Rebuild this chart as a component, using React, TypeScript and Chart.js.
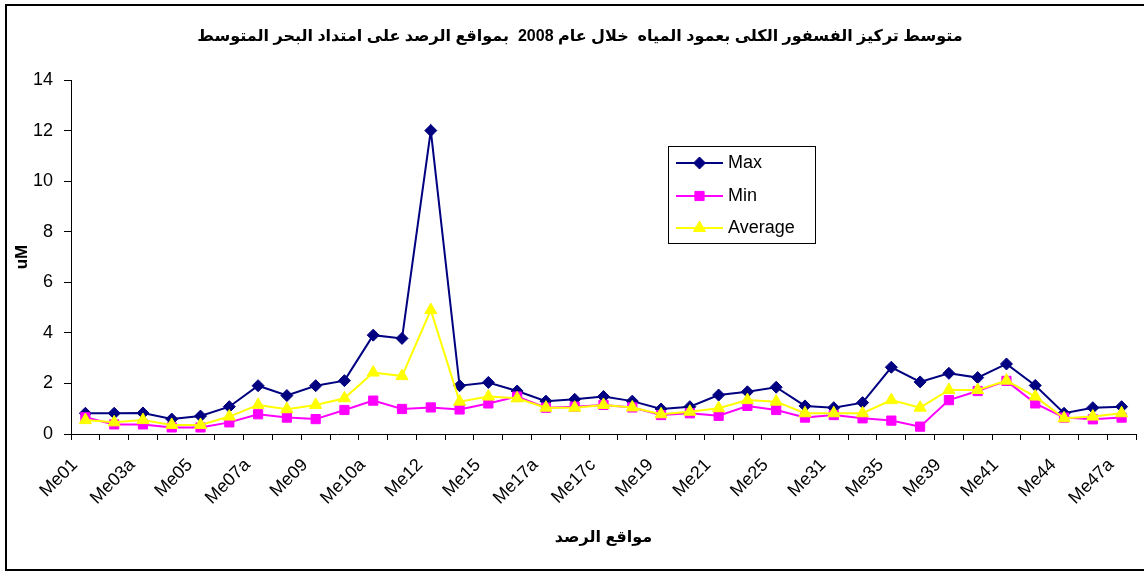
import React, { useEffect, useRef } from 'react';
import { Chart, registerables } from 'chart.js';

Chart.register(...registerables);

const TITLE = 'متوسط تركيز الفسفور الكلى بعمود المياه  خلال عام 2008  بمواقع الرصد على امتداد البحر المتوسط';
const X_TITLE = 'مواقع الرصد';
const Y_TITLE = 'uM';

const categories = [
  'Me01', 'Me02', 'Me03a', 'Me04', 'Me05', 'Me06', 'Me07a', 'Me08', 'Me09', 'Me10',
  'Me10a', 'Me11', 'Me12', 'Me13', 'Me15', 'Me16', 'Me17a', 'Me17b', 'Me17c', 'Me18',
  'Me19', 'Me20', 'Me21', 'Me23', 'Me25', 'Me27', 'Me31', 'Me33', 'Me35', 'Me37',
  'Me39', 'Me40', 'Me41', 'Me43', 'Me44', 'Me46', 'Me47a',
];

const maxValues = [
  0.82, 0.82, 0.83, 0.59, 0.71, 1.08, 1.91, 1.52, 1.91, 2.11,
  3.91, 3.78, 12.0, 1.91, 2.04, 1.70, 1.30, 1.37, 1.48, 1.30,
  0.99, 1.08, 1.54, 1.67, 1.85, 1.11, 1.04, 1.24, 2.64, 2.06,
  2.40, 2.23, 2.77, 1.92, 0.82, 1.04, 1.08,
];

const minValues = [
  0.66, 0.38, 0.38, 0.26, 0.26, 0.46, 0.78, 0.65, 0.59, 0.95,
  1.32, 0.99, 1.05, 0.97, 1.21, 1.48, 1.04, 1.08, 1.15, 1.05,
  0.75, 0.82, 0.72, 1.11, 0.95, 0.65, 0.75, 0.62, 0.53, 0.29,
  1.34, 1.70, 2.10, 1.21, 0.65, 0.58, 0.65,
];

const avgValues = [
  0.55, 0.46, 0.55, 0.36, 0.36, 0.69, 1.15, 0.98, 1.15, 1.41,
  2.43, 2.29, 4.90, 1.28, 1.48, 1.41, 1.04, 1.04, 1.15, 1.05,
  0.78, 0.88, 1.02, 1.34, 1.28, 0.82, 0.82, 0.82, 1.34, 1.04,
  1.74, 1.74, 2.11, 1.48, 0.62, 0.69, 0.82,
];

const seriesNames = ['Max', 'Min', 'Average'];
const seriesColors = ['#000080', '#FF00FF', '#FFFF00'];
const seriesShapes = ['rectRot', 'rect', 'triangle'];
const seriesRadius = [6, 6.5, 7];

const Y_MIN = 0;
const Y_MAX = 14;
const Y_STEP = 2;

const FONT = '"Liberation Sans", Arial, "DejaVu Sans", sans-serif';

function drawMarker(ctx: CanvasRenderingContext2D, shape: string, x: number, y: number, r: number, color: string) {
  ctx.save();
  ctx.fillStyle = color;
  ctx.strokeStyle = color;
  ctx.lineWidth = 1;
  ctx.beginPath();
  if (shape === 'rectRot') {
    ctx.moveTo(x, y - r);
    ctx.lineTo(x + r, y);
    ctx.lineTo(x, y + r);
    ctx.lineTo(x - r, y);
    ctx.closePath();
  } else if (shape === 'rect') {
    const s = Math.SQRT1_2 * r;
    ctx.rect(x - s, y - s, 2 * s, 2 * s);
  } else {
    const h = Math.sqrt(3) / 2;
    ctx.moveTo(x, y - r);
    ctx.lineTo(x + r * h, y + r / 2);
    ctx.lineTo(x - r * h, y + r / 2);
    ctx.closePath();
  }
  ctx.fill();
  ctx.stroke();
  ctx.restore();
}

const framePlugin = {
  id: 'frameAndTitle',
  beforeDraw(chart: any) {
    const ctx = chart.ctx as CanvasRenderingContext2D;
    ctx.save();
    ctx.fillStyle = '#ffffff';
    ctx.fillRect(0, 0, chart.width, chart.height);
    ctx.strokeStyle = '#000000';
    ctx.lineWidth = 2;
    ctx.strokeRect(6, 5, 1200, 565);
    ctx.restore();
  },
  afterDraw(chart: any) {
    const ctx = chart.ctx as CanvasRenderingContext2D;
    // Title
    ctx.save();
    ctx.fillStyle = '#000000';
    ctx.font = `bold 16px ${FONT}`;
    (ctx as any).direction = 'rtl';
    ctx.textAlign = 'center';
    ctx.textBaseline = 'middle';
    ctx.fillText(TITLE, 580, 37);
    ctx.restore();

    // Legend
    const bx = 668.5, by = 146.5, bw = 147, bh = 97;
    ctx.save();
    ctx.fillStyle = '#ffffff';
    ctx.fillRect(bx, by, bw, bh);
    ctx.strokeStyle = '#000000';
    ctx.lineWidth = 1;
    ctx.strokeRect(bx, by, bw, bh);
    const rows = [163, 196, 228];
    seriesNames.forEach((name, i) => {
      const y = rows[i];
      ctx.strokeStyle = seriesColors[i];
      ctx.lineWidth = 2;
      ctx.beginPath();
      ctx.moveTo(676, y);
      ctx.lineTo(723, y);
      ctx.stroke();
      drawMarker(ctx, seriesShapes[i], 699.5, y, seriesRadius[i], seriesColors[i]);
      ctx.fillStyle = '#000000';
      ctx.font = `18px ${FONT}`;
      ctx.textAlign = 'left';
      ctx.textBaseline = 'middle';
      ctx.fillText(name, 728, y);
    });
    ctx.restore();
  },
};

export default function App() {
  const canvasRef = useRef<HTMLCanvasElement | null>(null);

  useEffect(() => {
    if (!canvasRef.current) return;
    const series = [maxValues, minValues, avgValues];
    const chart = new Chart(canvasRef.current, {
      type: 'line',
      data: {
        labels: categories,
        datasets: series.map((values, i) => ({
          label: seriesNames[i],
          data: values,
          borderColor: seriesColors[i],
          backgroundColor: seriesColors[i],
          borderWidth: 2,
          pointStyle: seriesShapes[i] as any,
          pointRadius: seriesRadius[i],
          pointBorderWidth: 1,
          pointBackgroundColor: seriesColors[i],
          pointBorderColor: seriesColors[i],
          tension: 0,
          fill: false,
          order: 2 - i,
        })),
      },
      options: {
        responsive: false,
        animation: false,
        devicePixelRatio: 1,
        layout: { padding: { top: 80, right: 3, left: 0, bottom: 0 } },
        plugins: {
          legend: { display: false },
          title: { display: false },
          tooltip: { enabled: false },
        },
        scales: {
          x: {
            type: 'category',
            offset: true,
            border: { display: true, color: '#000000', width: 1 },
            grid: {
              offset: true,
              drawOnChartArea: false,
              drawTicks: true,
              tickLength: 6,
              color: '#000000',
            },
            ticks: {
              autoSkip: false,
              minRotation: 45,
              maxRotation: 45,
              padding: 4,
              color: '#000000',
              font: { family: FONT, size: 18 },
              callback: (_v: any, index: number) => (index % 2 === 0 ? categories[index] + '   ' : ''),
            },
            title: {
              display: true,
              text: X_TITLE,
              color: '#000000',
              font: { family: FONT, size: 16, weight: 'bold' },
              padding: { top: 0, bottom: 25 },
            },
            afterFit: (scale: any) => {
              scale.height = 138;
            },
          },
          y: {
            min: Y_MIN,
            max: Y_MAX,
            border: { display: true, color: '#000000', width: 1 },
            grid: {
              drawOnChartArea: false,
              drawTicks: true,
              tickLength: 7,
              color: '#000000',
            },
            ticks: {
              stepSize: Y_STEP,
              padding: 11,
              color: '#000000',
              font: { family: FONT, size: 18 },
            },
            title: {
              display: true,
              text: Y_TITLE,
              color: '#000000',
              font: { family: FONT, size: 17, weight: 'bold' },
              padding: { top: 12, bottom: 0 },
            },
            afterFit: (scale: any) => {
              scale.width = 71;
            },
          },
        },
      },
      plugins: [framePlugin],
    });
    return () => chart.destroy();
  }, []);

  return (
    <div style={{ position: 'fixed', left: 0, top: 0, width: 1144, height: 572, background: '#fff' }}>
      <canvas ref={canvasRef} width={1144} height={572} style={{ width: 1144, height: 572, display: 'block' }} />
    </div>
  );
}
